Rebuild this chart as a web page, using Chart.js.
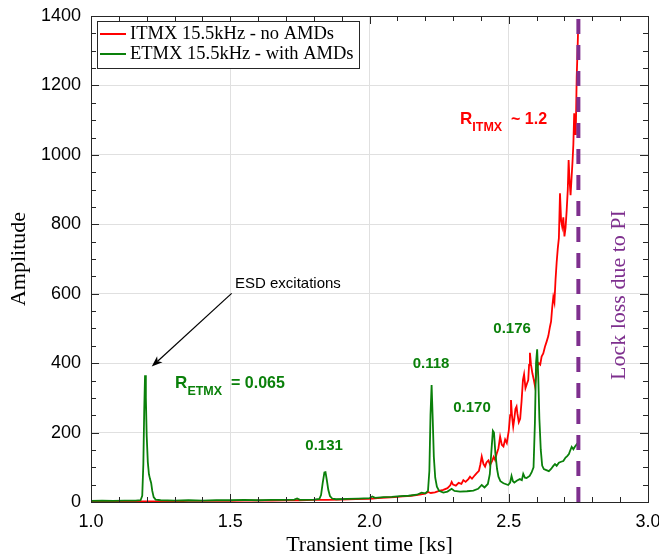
<!DOCTYPE html>
<html>
<head>
<meta charset="utf-8">
<script src="https://cdn.jsdelivr.net/npm/chart.js@4.4.0/dist/chart.umd.min.js"></script>
<style>
  html, body { margin: 0; padding: 0; background: #fff; }
  #wrap { width: 659px; height: 554px; }
</style>
</head>
<body>
<div id="wrap"><canvas id="piChart" width="659" height="554"></canvas></div>
<script>
// ITMX 15.5kHz - no AMDs
const itmxTime = [1.00, 1.05, 1.10, 1.15, 1.20, 1.25, 1.30, 1.35, 1.40, 1.45, 1.50, 1.55, 1.60, 1.65, 1.70, 1.75, 1.80, 1.85, 1.90, 1.95,
    2.00, 2.03, 2.06, 2.09, 2.12, 2.15, 2.18, 2.20, 2.21, 2.22, 2.235, 2.25, 2.265, 2.28, 2.29, 2.295, 2.30, 2.31, 2.32, 2.33,
    2.337, 2.345, 2.355, 2.361, 2.368, 2.378, 2.385, 2.393, 2.398, 2.403, 2.409, 2.415, 2.42, 2.427, 2.433, 2.44, 2.446, 2.451, 2.457, 2.463,
    2.469, 2.475, 2.481, 2.487, 2.493, 2.50, 2.505, 2.508, 2.512, 2.516, 2.52, 2.524, 2.528, 2.531, 2.536, 2.541, 2.546, 2.551, 2.555, 2.56,
    2.565, 2.57, 2.573, 2.576, 2.58, 2.585, 2.59, 2.594, 2.598, 2.603, 2.608, 2.613, 2.618, 2.624, 2.63, 2.636, 2.642, 2.648, 2.652, 2.656,
    2.66, 2.664, 2.668, 2.672, 2.676, 2.68, 2.684, 2.688, 2.692, 2.696, 2.70, 2.704, 2.708, 2.712, 2.715, 2.718, 2.722, 2.726, 2.729, 2.732,
    2.735, 2.738, 2.741, 2.744, 2.747, 2.75];
const itmxAmp = [1, 1, 1, 2, 2, 2, 2, 3, 3, 3, 3, 4, 4, 4, 5, 5, 6, 6, 7, 8,
    9, 11, 13, 14, 16, 18, 21, 24, 29, 26, 28, 32, 35, 40, 48, 58, 50, 47, 55, 52,
    63, 58, 66, 73, 67, 77, 83, 90, 108, 131, 110, 102, 114, 120, 107, 118, 130, 121, 140, 155,
    188, 165, 160, 180, 170, 205, 250, 294, 245, 217, 240, 268, 275, 255, 230, 240, 290, 352, 368, 328,
    340, 351, 395, 430, 395, 370, 352, 335, 360, 392, 400, 396, 419, 428, 447, 462, 478, 505, 520, 560,
    590, 575, 640, 690, 730, 760, 889, 810, 793, 820, 765, 790, 840, 900, 985, 930, 884, 940, 981, 1030,
    1120, 1060, 1080, 1225, 1300, 1389];

// ETMX 15.5kHz - with AMDs
const etmxTime = [1.00, 1.04, 1.08, 1.12, 1.16, 1.178, 1.184, 1.188, 1.191, 1.194, 1.197, 1.200, 1.204, 1.208, 1.212, 1.216, 1.220, 1.225, 1.232, 1.25,
    1.30, 1.35, 1.40, 1.45, 1.50, 1.55, 1.60, 1.65, 1.70, 1.73, 1.74, 1.75, 1.80, 1.82, 1.826, 1.832, 1.838, 1.842, 1.847, 1.852,
    1.858, 1.866, 1.88, 1.92, 1.96, 2.00, 2.01, 2.02, 2.05, 2.08, 2.11, 2.14, 2.17, 2.187, 2.20, 2.21, 2.215, 2.219, 2.223, 2.227,
    2.231, 2.236, 2.242, 2.25, 2.265, 2.28, 2.295, 2.305, 2.325, 2.35, 2.373, 2.39, 2.403, 2.413, 2.425, 2.432, 2.438, 2.443, 2.447, 2.452,
    2.458, 2.463, 2.47, 2.481, 2.498, 2.505, 2.51, 2.515, 2.52, 2.53, 2.54, 2.547, 2.552, 2.558, 2.564, 2.575, 2.582, 2.589, 2.594, 2.598,
    2.602, 2.606, 2.61, 2.615, 2.62, 2.626, 2.635, 2.644, 2.652, 2.66, 2.666, 2.672, 2.68, 2.688, 2.696, 2.704, 2.71, 2.716, 2.72, 2.726,
    2.732, 2.738, 2.744, 2.749];
const etmxAmp = [3, 4, 3, 4, 4, 5, 18, 110, 260, 365, 300, 190, 115, 80, 66, 55, 32, 14, 7, 5,
    4, 5, 4, 5, 5, 6, 5, 6, 6, 7, 10, 6, 7, 9, 20, 55, 85, 86, 62, 35,
    17, 10, 8, 9, 10, 11, 16, 12, 14, 15, 17, 18, 21, 27, 25, 32, 90, 250, 337, 240,
    130, 70, 44, 32, 27, 30, 38, 32, 30, 31, 33, 38, 49, 42, 52, 80, 150, 205, 200, 140,
    95, 73, 60, 54, 49, 56, 75, 60, 56, 62, 66, 63, 81, 70, 69, 75, 85, 100, 230, 400,
    440, 360, 240, 150, 105, 95, 92, 89, 95, 104, 109, 104, 113, 116, 118, 128, 132, 138, 147, 159,
    152, 160, 166, 160];

// Lock loss due to PI
const lockLossTime = [2.75, 2.75];
const lockLossAmp = [0, 1400];

const toPoints = (xs, ys) => xs.map((x, i) => ({ x: x, y: ys[i] }));

const serif = "'Liberation Serif', 'DejaVu Serif', serif";
const sans = "'Liberation Sans', Arial, sans-serif";
const red = '#ff0000';
const green = '#0a800a';
const purple = '#7e2f8e';

// Box, inward ticks, legend and text labels
const decorPlugin = {
    id: 'decor',
    afterDatasetsDraw(chart) {
        const ctx = chart.ctx;
        const a = chart.chartArea;
        const xs = chart.scales.x;
        const ys = chart.scales.y;
        ctx.save();

        // ticks on all four sides
        ctx.strokeStyle = '#262626';
        ctx.lineWidth = 1;
        ctx.beginPath();
        for (let v = 1.0; v <= 3.0001; v += 0.1) {
            const px = Math.round(xs.getPixelForValue(v)) + 0.5;
            const major = Math.abs(v * 2 - Math.round(v * 2)) < 1e-6;
            const len = major ? 8 : 5;
            ctx.moveTo(px, a.bottom); ctx.lineTo(px, a.bottom - len);
            ctx.moveTo(px, a.top); ctx.lineTo(px, a.top + len);
        }
        for (let v = 0; v <= 1400; v += 50) {
            const py = Math.round(ys.getPixelForValue(v)) + 0.5;
            const len = v % 200 === 0 ? 8 : 5;
            ctx.moveTo(a.left, py); ctx.lineTo(a.left + len, py);
            ctx.moveTo(a.right, py); ctx.lineTo(a.right - len, py);
        }
        ctx.stroke();
        ctx.strokeRect(Math.round(a.left) + 0.5, Math.round(a.top) + 0.5,
            Math.round(a.right - a.left), Math.round(a.bottom - a.top));

        // legend
        ctx.fillStyle = '#fff';
        ctx.fillRect(97.5, 21.5, 262, 47);
        ctx.strokeStyle = '#262626';
        ctx.strokeRect(97.5, 21.5, 262, 47);
        ctx.font = '18.5px ' + serif;
        ctx.textBaseline = 'middle';
        ctx.textAlign = 'left';
        [[chart.data.datasets[2], 34], [chart.data.datasets[1], 54]].forEach(([ds, y]) => {
            ctx.strokeStyle = ds.borderColor;
            ctx.lineWidth = 2;
            ctx.beginPath(); ctx.moveTo(100, y); ctx.lineTo(126, y); ctx.stroke();
            ctx.fillStyle = '#000';
            ctx.fillText(ds.label, 130, y);
        });

        // peak ratio labels
        ctx.fillStyle = green;
        ctx.textAlign = 'center';
        ctx.font = 'bold 15px ' + sans;
        [['0.131', 1.837, 161], ['0.118', 2.221, 398], ['0.170', 2.368, 271], ['0.176', 2.512, 498]].forEach(([t, x, y]) => {
            ctx.fillText(t, xs.getPixelForValue(x), ys.getPixelForValue(y));
        });

        // R with subscript
        const rLabel = (x, y, sub, rest, color) => {
            let px = xs.getPixelForValue(x);
            const py = ys.getPixelForValue(y);
            ctx.fillStyle = color;
            ctx.textAlign = 'left';
            ctx.textBaseline = 'alphabetic';
            ctx.font = 'bold 17px ' + sans;
            ctx.fillText('R', px, py);
            px += ctx.measureText('R').width;
            ctx.font = 'bold 12.5px ' + sans;
            ctx.fillText(sub, px, py + 7);
            px += ctx.measureText(sub).width;
            ctx.font = 'bold 16px ' + sans;
            ctx.fillText(rest, px, py);
        };
        rLabel(1.302, 328, 'ETMX', '  = 0.065', green);
        rLabel(2.325, 1089, 'ITMX', '  ~ 1.2', red);

        // ESD annotation with arrow
        ctx.fillStyle = '#000';
        ctx.font = '15px ' + sans;
        ctx.textBaseline = 'middle';
        ctx.fillText('ESD excitations', xs.getPixelForValue(1.517), ys.getPixelForValue(628));
        const x0 = xs.getPixelForValue(1.505), y0 = ys.getPixelForValue(601);
        const x1 = xs.getPixelForValue(1.218), y1 = ys.getPixelForValue(390);
        const ang = Math.atan2(y1 - y0, x1 - x0);
        ctx.strokeStyle = '#000';
        ctx.lineWidth = 1.2;
        ctx.beginPath(); ctx.moveTo(x0, y0);
        ctx.lineTo(x1 - 8 * Math.cos(ang), y1 - 8 * Math.sin(ang)); ctx.stroke();
        ctx.beginPath();
        ctx.moveTo(x1, y1);
        ctx.lineTo(x1 - 11 * Math.cos(ang) + 4 * Math.sin(ang), y1 - 11 * Math.sin(ang) - 4 * Math.cos(ang));
        ctx.lineTo(x1 - 8 * Math.cos(ang), y1 - 8 * Math.sin(ang));
        ctx.lineTo(x1 - 11 * Math.cos(ang) - 4 * Math.sin(ang), y1 - 11 * Math.sin(ang) + 4 * Math.cos(ang));
        ctx.closePath();
        ctx.fillStyle = '#000';
        ctx.fill();

        // lock loss text
        ctx.save();
        ctx.translate(xs.getPixelForValue(2.896), ys.getPixelForValue(596));
        ctx.rotate(-Math.PI / 2);
        ctx.fillStyle = purple;
        ctx.font = '22px ' + serif;
        ctx.textAlign = 'center';
        ctx.textBaseline = 'middle';
        ctx.fillText('Lock loss due to PI', 0, 0);
        ctx.restore();

        ctx.restore();
    }
};

const ctx = document.getElementById('piChart').getContext('2d');
new Chart(ctx, {
    type: 'line',
    data: {
        datasets: [
            {
                label: 'Lock loss due to PI',
                data: toPoints(lockLossTime, lockLossAmp),
                borderColor: purple,
                borderWidth: 4,
                borderDash: [15, 11],
                pointRadius: 0,
                order: 0
            },
            {
                label: 'ETMX 15.5kHz - with AMDs',
                data: toPoints(etmxTime, etmxAmp),
                borderColor: green,
                borderWidth: 1.8,
                pointRadius: 0,
                tension: 0,
                order: 1
            },
            {
                label: 'ITMX 15.5kHz - no AMDs',
                data: toPoints(itmxTime, itmxAmp),
                borderColor: red,
                borderWidth: 1.8,
                pointRadius: 0,
                tension: 0,
                order: 2
            }
        ]
    },
    options: {
        responsive: false,
        animation: false,
        layout: { padding: { top: 16, right: 11, left: 0, bottom: 0 } },
        plugins: {
            legend: { display: false },
            tooltip: { enabled: false }
        },
        scales: {
            x: {
                type: 'linear',
                min: 1,
                max: 3,
                ticks: {
                    stepSize: 0.5,
                    padding: 9,
                    color: '#000',
                    font: { family: sans, size: 18 },
                    callback: (v) => v.toFixed(1)
                },
                grid: { color: '#e0e0e0', drawTicks: false },
                border: { display: false },
                title: {
                    display: true,
                    text: 'Transient time [ks]',
                    color: '#000',
                    font: { family: serif, size: 22, lineHeight: 0.8 },
                    padding: { top: 0, bottom: 0 }
                },
                afterFit: (s) => { s.height = 52; s.paddingLeft = 0; s.paddingRight = 0; }
            },
            y: {
                min: 0,
                max: 1400,
                ticks: {
                    stepSize: 200,
                    padding: 10,
                    color: '#000',
                    font: { family: sans, size: 18 },
                    callback: (v) => String(v)
                },
                grid: { color: '#e0e0e0', drawTicks: false },
                border: { display: false },
                title: {
                    display: true,
                    text: 'Amplitude',
                    color: '#000',
                    font: { family: serif, size: 22 },
                    padding: { top: 6, bottom: 0 }
                },
                afterFit: (s) => { s.width = 91; s.paddingTop = 0; s.paddingBottom = 0; }
            }
        }
    },
    plugins: [decorPlugin]
});
</script>
</body>
</html>
